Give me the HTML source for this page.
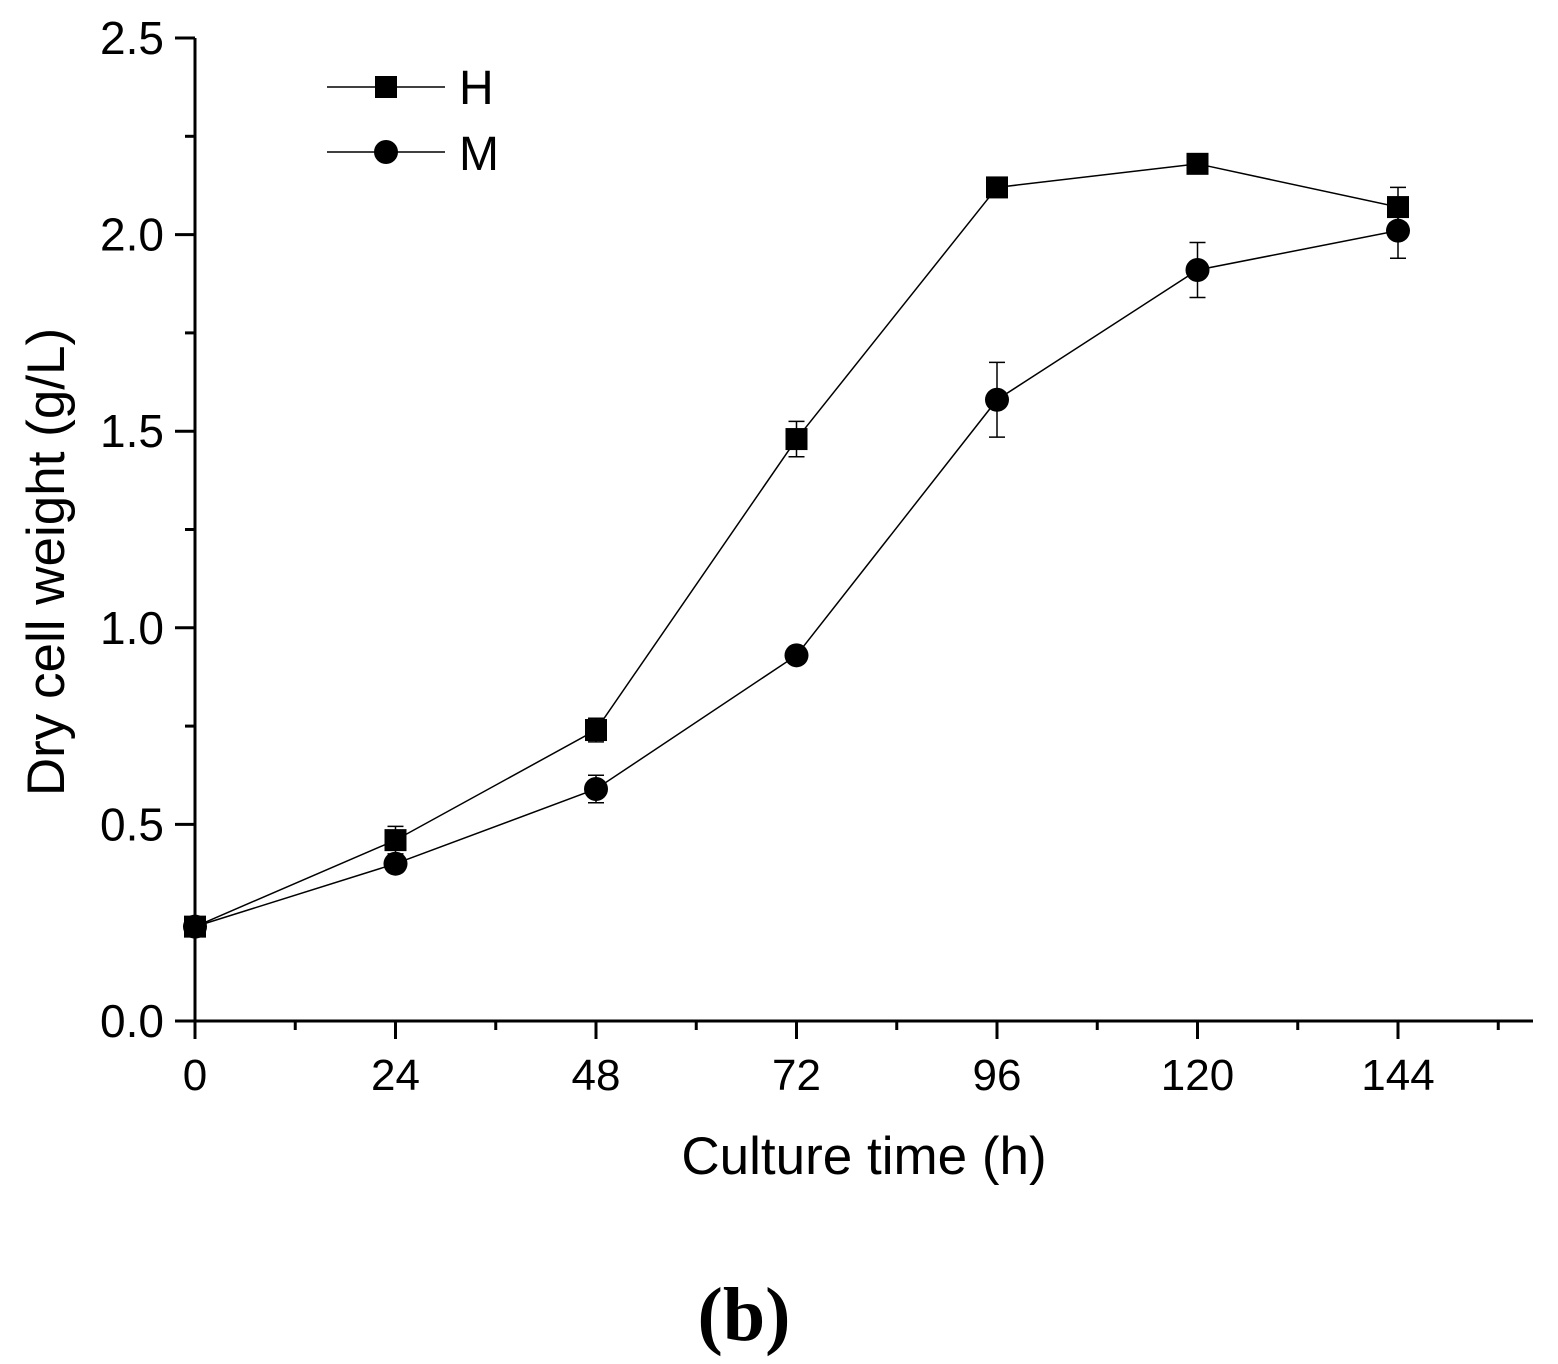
<!DOCTYPE html>
<html><head><meta charset="utf-8"><style>
body{margin:0;background:#fff}
svg{display:block;font-family:"Liberation Sans",Arial,sans-serif}
</style></head><body>
<svg id="chart" width="1558" height="1364" viewBox="0 0 1558 1364">
<g id="axes"></g>
<g id="series"></g>
<g>
<line x1="327" y1="87" x2="445" y2="87" stroke="#000" stroke-width="1.5"/>
<rect x="375" y="76" width="22" height="22" fill="#000"/>
<text x="459" y="104" font-size="48">H</text>
<line x1="327" y1="152" x2="445" y2="152" stroke="#000" stroke-width="1.5"/>
<circle cx="386" cy="152" r="12" fill="#000"/>
<text x="459" y="170" font-size="48">M</text>
</g>
<text x="864" y="1174" font-size="53" text-anchor="middle">Culture time (h)</text>
<text transform="translate(64,562) rotate(-90)" font-size="53" text-anchor="middle">Dry cell weight (g/L)</text>
<text x="744" y="1340" font-size="76" font-weight="bold" text-anchor="middle" font-family="Liberation Serif,serif">(b)</text>
</svg>
<script>
const times=[0,24,48,72,96,120,144];
const hValues=[0.24,0.46,0.74,1.48,2.12,2.18,2.07];
const hErrors=[0.02,0.035,0.03,0.045,0.015,0.015,0.05];
const mValues=[0.24,0.40,0.59,0.93,1.58,1.91,2.01];
const mErrors=[0.02,0.02,0.035,0.02,0.095,0.07,0.07];
const xTicks=[0,24,48,72,96,120,144];
const yTicks=["0.0","0.5","1.0","1.5","2.0","2.5"];
const NS="http://www.w3.org/2000/svg";
const x0=195,xPer=(1398-195)/144,y0=1021,yPer=(1021-38)/2.5;
const sx=v=>x0+v*xPer, sy=v=>y0-v*yPer;
function mk(tag,attrs,parent){const e=document.createElementNS(NS,tag);for(const k in attrs)e.setAttribute(k,attrs[k]);parent.appendChild(e);return e;}
const ax=document.getElementById('axes');
let l=mk('line',{x1:x0,y1:y0,x2:1533,y2:y0,stroke:'#000','stroke-width':3},ax);


l=mk('line',{x1:x0,y1:y0+1,x2:x0,y2:38,stroke:'#000','stroke-width':3},ax);


for(let t=0;t<=156;t+=12){const maj=t%24===0;
 l=mk('line',{x1:sx(t),y1:y0,x2:sx(t),y2:y0+(maj?18:9),stroke:'#000','stroke-width':3},ax);
 
 }
xTicks.forEach(t=>{const e=mk('text',{x:sx(t),y:y0+69,'font-size':44,'text-anchor':'middle'},ax);e.textContent=t;
 
 });
for(let v=0;v<=2.5001;v+=0.25){const maj=Math.round(v*4)%2===0;
 l=mk('line',{x1:x0,y1:sy(v),x2:x0-(maj?20:10),y2:sy(v),stroke:'#000','stroke-width':3},ax);
 
 }
yTicks.forEach(s=>{const e=mk('text',{x:164,y:sy(parseFloat(s))+16,'font-size':46,'text-anchor':'end'},ax);e.textContent=s;
 
 });
const sg=document.getElementById('series');
function series(vals,errs,shape,name){
 const g=mk('g',{},sg);
 
 
 const p=mk('polyline',{points:times.map((t,i)=>sx(t)+','+sy(vals[i])).join(' '),fill:'none',stroke:'#000','stroke-width':1.5},g);
 
 
 times.forEach((t,i)=>{const x=sx(t),yt=sy(vals[i]+errs[i]),yb=sy(vals[i]-errs[i]);
  const e=mk('path',{d:`M${x},${yt}V${yb}M${x-8},${yt}H${x+8}M${x-8},${yb}H${x+8}`,stroke:'#000','stroke-width':1.5,fill:'none'},g);
  
  
  let m;
  if(shape==='sq')m=mk('rect',{x:x-11,y:sy(vals[i])-11,width:22,height:22,fill:'#000'},g);
  else m=mk('circle',{cx:x,cy:sy(vals[i]),r:12,fill:'#000'},g);
  
  });
}
series(mValues,mErrors,'ci','m');
series(hValues,hErrors,'sq','h');
</script>
</body></html>
